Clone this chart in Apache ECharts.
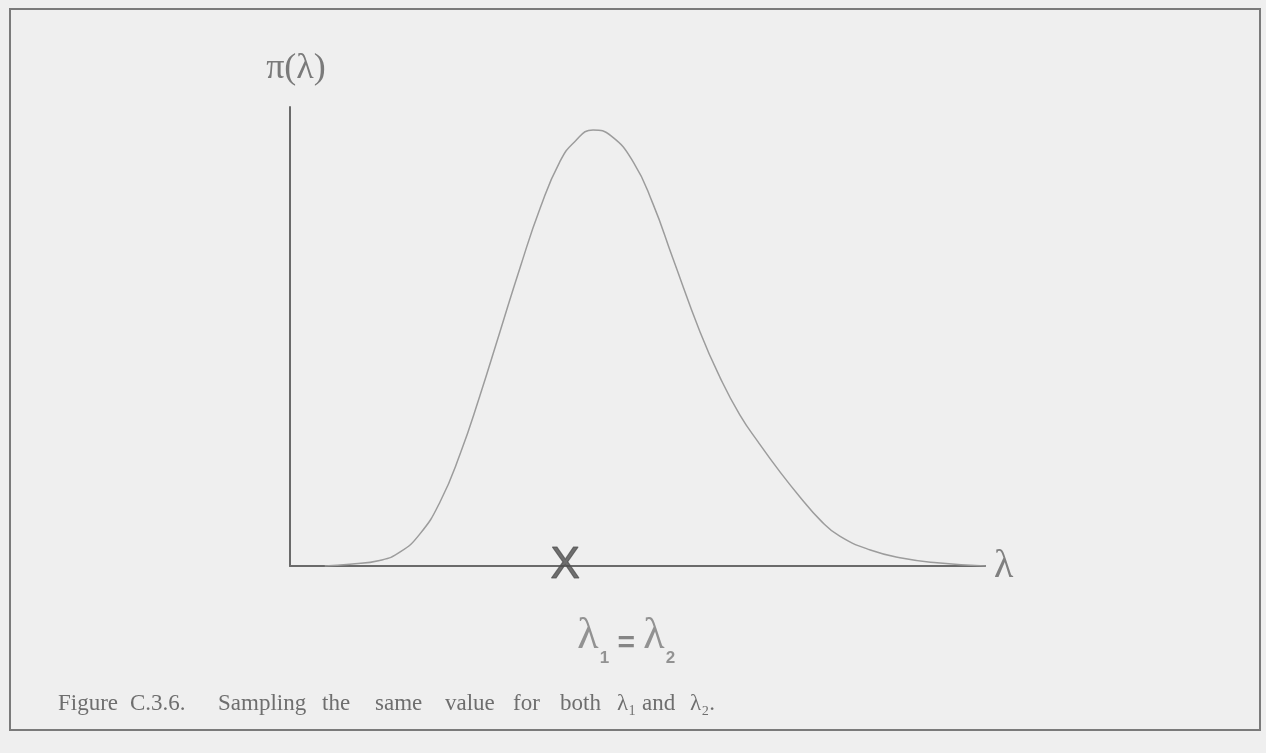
<!DOCTYPE html>
<html>
<head>
<meta charset="utf-8">
<title>Figure C.3.6</title>
<script src="https://cdn.jsdelivr.net/npm/echarts@6/dist/echarts.min.js"></script>
<style>
  html, body { margin: 0; padding: 0; background: #efefef; }
  #chart { width: 1266px; height: 753px; }
</style>
</head>
<body>
<div id="chart"></div>
<script>
// Prior density pi(lambda) sampled along the lambda axis
const lambdaValues = [0.5, 0.86, 1.29, 1.58, 1.87, 2.16, 2.45, 2.73, 3.02, 3.31, 3.60, 3.88, 4.10, 4.36,
  4.62, 4.94, 5.22, 5.51, 5.90, 6.19, 6.47, 6.76, 7.05, 7.34, 7.63, 7.91, 8.35, 8.82, 9.31, 10.0];
const densityValues = [0.0, 0.004, 0.012, 0.03, 0.07, 0.14, 0.245, 0.37, 0.51, 0.65, 0.78, 0.88, 0.925, 0.95,
  0.937, 0.88, 0.79, 0.67, 0.51, 0.41, 0.33, 0.265, 0.205, 0.15, 0.10, 0.065, 0.035, 0.017, 0.007, 0.0];

// The single sampled value used for both lambda_1 and lambda_2
const sampledLambda = [3.96];

// Caption words and their x offsets (typeset with wide justification)
const captionWords = ['Figure', 'C.3.6.', 'Sampling', 'the', 'same', 'value', 'for', 'both', 'λ₁', 'and', 'λ₂.'];
const captionX = [58, 130, 218, 322, 375, 445, 513, 560, 617, 642, 690];

const serif = '"Liberation Serif", "DejaVu Serif", serif';
const sans = '"Liberation Sans", Arial, sans-serif';

const curveData = lambdaValues.map((x, i) => [x, densityValues[i]]);

const chart = echarts.init(document.getElementById('chart'), null, { renderer: 'canvas' });

chart.setOption({
  backgroundColor: '#efefef',
  animation: false,
  grid: { left: 290, top: 107, right: 281, bottom: 187 },
  xAxis: {
    type: 'value', min: 0, max: 10,
    name: 'λ', nameLocation: 'end', nameGap: 9,
    nameTextStyle: { fontFamily: serif, fontSize: 40, color: '#808080', verticalAlign: 'middle', padding: [14, 0, 0, 0] },
    axisLine: { lineStyle: { color: '#6a6a6a', width: 2 } },
    axisTick: { show: false }, axisLabel: { show: false }, splitLine: { show: false }
  },
  yAxis: {
    type: 'value', min: 0, max: 1,
    name: 'π(λ)', nameLocation: 'end', nameGap: 20,
    nameTextStyle: { fontFamily: serif, fontSize: 36, color: '#7a7a7a', align: 'center', padding: [0, 0, 0, 12] },
    axisLine: { show: true, lineStyle: { color: '#6a6a6a', width: 2 } },
    axisTick: { show: false }, axisLabel: { show: false }, splitLine: { show: false }
  },
  series: [
    {
      type: 'line',
      data: curveData,
      smooth: 0.5,
      showSymbol: false,
      lineStyle: { color: '#9c9c9c', width: 1.5 }
    },
    {
      // cross marking the sampled value on the axis
      type: 'scatter',
      data: sampledLambda.map(x => [x, 0]),
      symbolSize: 1,
      itemStyle: { color: 'rgba(0,0,0,0)' },
      label: {
        show: true, position: 'inside', formatter: 'X',
        fontFamily: sans, fontSize: 44,
        color: '#4e4e4e', textBorderColor: '#5a5a5a', textBorderWidth: 1.2,
        offset: [0, 0]
      },
      z: 5
    },
    {
      // lambda_1 = lambda_2 caption under the cross
      type: 'scatter',
      data: sampledLambda.map(x => [x, 0]),
      symbolSize: 1,
      itemStyle: { color: 'rgba(0,0,0,0)' },
      label: {
        show: true, position: 'bottom', distance: 48, offset: [61, 0],
        formatter: '{l|λ}{s|1}{e| = }{l|λ}{s|2}',
        rich: {
          l: { fontFamily: serif, fontSize: 44, color: '#7a7a7a', lineHeight: 44, verticalAlign: 'bottom' },
          s: { fontFamily: sans, fontSize: 17, fontWeight: 'bold', color: '#7a7a7a', lineHeight: 44, verticalAlign: 'bottom', padding: [0, 0, -8, 1] },
          e: { fontFamily: sans, fontSize: 30, fontWeight: 'bold', color: '#6a6a6a', lineHeight: 44, verticalAlign: 'bottom' }
        }
      }
    }
  ],
  graphic: [
    {
      type: 'rect', silent: true,
      shape: { x: 10, y: 9, width: 1250, height: 721 },
      style: { fill: 'none', stroke: '#7a7a7a', lineWidth: 2 }
    }
  ].concat(captionWords.map((w, i) => ({
    type: 'text', silent: true,
    x: captionX[i], y: 704,
    style: { text: w, font: '23px ' + serif, fill: '#6e6e6e', verticalAlign: 'middle', align: 'left' }
  })))
});
</script>
</body>
</html>
